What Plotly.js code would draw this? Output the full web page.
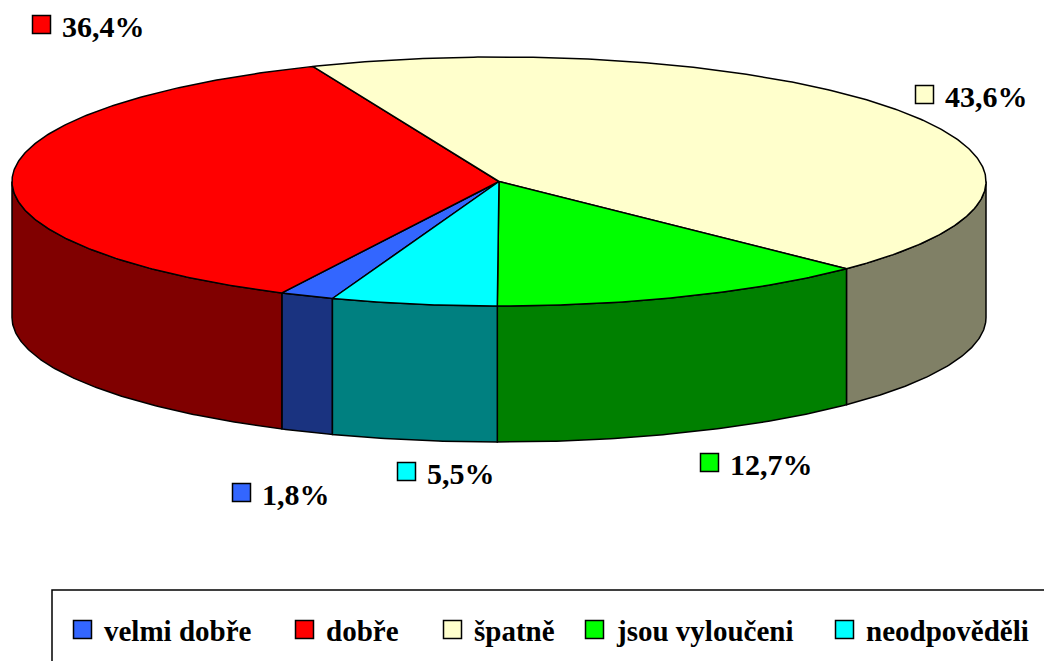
<!DOCTYPE html>
<html>
<head>
<meta charset="utf-8">
<script src="https://cdn.plot.ly/plotly-3.0.1.min.js"></script>
<style>html,body{margin:0;padding:0;background:#fff;}#chart{width:1044px;height:661px;}</style>
</head>
<body>
<div id="chart"></div>
<script>
// ---- data ----
const categories = ['velmi dobře', 'dobře', 'špatně', 'jsou vyloučeni', 'neodpověděli'];
const values = [1.8, 36.4, 43.6, 12.7, 5.5];
const topColors = ['#3366FF', '#FF0000', '#FFFFCC', '#00FF00', '#00FFFF'];
const sideColors = ['#1A3380', '#800000', '#808066', '#008000', '#008080'];

// ---- layout constants (pixel space) ----
const W = 1044, H = 661;
const CX = 499, CY = 181.5, RX = 487, RY = 124.5, DEPTH = 136;
const ROTATION = 200; // first slice angle, degrees clockwise from 12 o'clock
const labelX = [260, 60, 943, 728, 425];   // label text left edge
const labelY = [494, 26, 96, 464, 473];    // label text centre
const legendX = [73, 295, 443, 585, 835];  // legend key left edge
const legendY = 629.5;
const FONT = 'Liberation Serif';

function pt(deg, dy) {
  const r = deg * Math.PI / 180;
  return [CX + RX * Math.sin(r), CY - RY * Math.cos(r) + (dy || 0)];
}
function arc(a, b, dy) {
  const n = Math.max(2, Math.ceil(Math.abs(b - a) / 0.5));
  const out = [];
  for (let i = 0; i <= n; i++) out.push(pt(a + (b - a) * i / n, dy));
  return out;
}

const total = values.reduce((s, v) => s + v, 0);
const traces = [];
const slices = [];
let cum = 0;
values.forEach((v) => {
  const a = ROTATION + cum / total * 360;
  const b = a + v / total * 360;
  cum += v;
  slices.push([a, b]);
});

// side walls (front half of the disc)
slices.forEach(([a, b], i) => {
  [[90, 270], [450, 630], [-270, -90]].forEach(([f0, f1]) => {
    const s = Math.max(a, f0), e = Math.min(b, f1);
    if (e > s) {
      const topArc = arc(s, e, 0);
      const poly = topArc.concat(arc(e, s, DEPTH));
      poly.push(topArc[0]);
      traces.push({
        type: 'scatter', mode: 'lines', fill: 'toself',
        x: poly.map(p => p[0]), y: poly.map(p => p[1]),
        fillcolor: sideColors[i], line: {color: '#000', width: 1.5},
        hoverinfo: 'skip', showlegend: false
      });
    }
  });
});

// top faces
slices.forEach(([a, b], i) => {
  const poly = [[CX, CY]].concat(arc(a, b, 0));
  poly.push([CX, CY]);
  traces.push({
    type: 'scatter', mode: 'lines', fill: 'toself',
    x: poly.map(p => p[0]), y: poly.map(p => p[1]),
    fillcolor: topColors[i], line: {color: '#000', width: 1.5},
    hoverinfo: 'skip', showlegend: false, name: categories[i]
  });
});

// legend frame
traces.push({
  type: 'scatter', mode: 'lines', x: [1060, 52, 52, 1060], y: [590, 590, 680, 680],
  line: {color: '#000', width: 1.5}, hoverinfo: 'skip', showlegend: false
});

const SQ = 19;
// label keys and legend keys as square markers
traces.push({
  type: 'scatter', mode: 'markers',
  x: labelX.map(x => x - 28 + SQ / 2).concat(legendX.map(x => x + SQ / 2)),
  y: labelY.map(y => y - 1.5).concat(legendX.map(() => legendY)),
  marker: {symbol: 'square', size: SQ - 1, color: topColors.concat(topColors), line: {color: '#000', width: 1.5}},
  hoverinfo: 'skip', showlegend: false
});

function fmt(v) { return v.toFixed(1).replace('.', ',') + '%'; }
const annotations = [];
values.forEach((v, i) => {
  annotations.push({xref: 'x', yref: 'y', x: labelX[i], y: labelY[i], xanchor: 'left', yanchor: 'middle', showarrow: false,
    text: fmt(v), font: {family: FONT, size: 30, color: '#000', weight: 'bold'}});
});
categories.forEach((c, i) => {
  annotations.push({xref: 'x', yref: 'y', x: legendX[i] + 29, y: legendY + 1, xanchor: 'left', yanchor: 'middle', showarrow: false,
    text: c, font: {family: FONT, size: 29, color: '#000', weight: 'bold'}});
});

Plotly.newPlot('chart', traces, {
  width: W, height: H,
  margin: {l: 0, r: 0, t: 0, b: 0},
  showlegend: false,
  xaxis: {range: [0, W], visible: false},
  yaxis: {range: [H, 0], visible: false},
  annotations: annotations
}, {displayModeBar: false});
</script>
</body>
</html>
